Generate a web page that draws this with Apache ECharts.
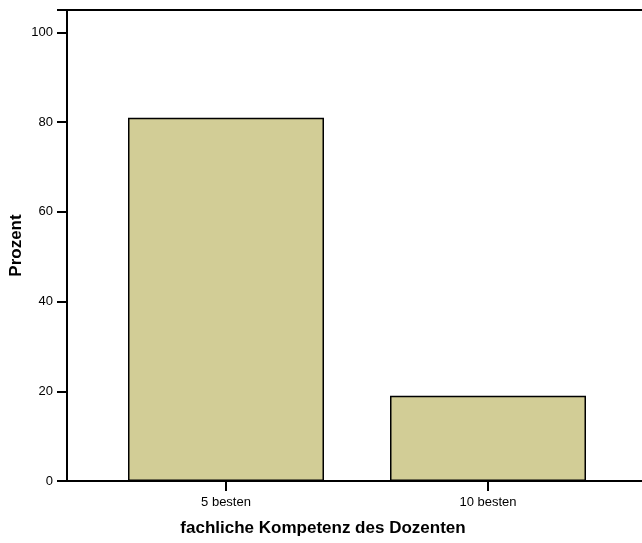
<!DOCTYPE html>
<html>
<head>
<meta charset="utf-8">
<script src="https://cdn.jsdelivr.net/npm/echarts@6/dist/echarts.min.js"></script>
<style>
  html, body { margin: 0; padding: 0; background: #fff; }
  #main { width: 642px; height: 543px; }
</style>
</head>
<body>
<div id="main"></div>
<script>
// 数据
const categories = ["5 besten", "10 besten"];
const prozent = [81, 19];
const yTicks = [0, 20, 40, 60, 80, 100];

const myChart = echarts.init(document.querySelector("#main"));
const font = "Liberation Sans, Arial, sans-serif";

const option = {
  animation: false,
  backgroundColor: "#fff",
  title: {
    text: "fachliche Kompetenz des Dozenten",
    left: 318,
    top: 515,
    textAlign: "center",
    textStyle: { fontFamily: font, fontSize: 17, fontWeight: "bold", color: "#000" },
  },
  grid: [
    // 外框 (x 轴线 + 顶部线)
    { left: 67, right: 0, top: 10, bottom: 62, outerBoundsMode: "none", containLabel: false },
    // 柱子
    { left: 95, right: 23, top: 10, bottom: 62, outerBoundsMode: "none", containLabel: false },
  ],
  xAxis: [
    {
      gridIndex: 0,
      type: "value",
      min: 0,
      max: 1,
      axisLine: { show: true, onZero: false, lineStyle: { color: "#000", width: 2 } },
      axisTick: { show: false },
      axisLabel: { show: false },
      splitLine: { show: false },
    },
    {
      gridIndex: 0,
      type: "value",
      position: "top",
      min: 0,
      max: 1,
      axisLine: { show: true, onZero: false, lineStyle: { color: "#000", width: 2 } },
      axisTick: { show: false },
      axisLabel: { show: false },
      splitLine: { show: false },
    },
    {
      gridIndex: 1,
      type: "category",
      data: categories,
      axisLine: { show: false },
      axisTick: { show: true, alignWithLabel: true, length: 10, lineStyle: { color: "#000", width: 2 } },
      axisLabel: { margin: 15, fontFamily: font, fontSize: 13, color: "#000" },
    },
  ],
  yAxis: [
    {
      gridIndex: 0,
      type: "value",
      min: 0,
      max: 105,
      show: false,
    },
    {
      gridIndex: 1,
      type: "value",
      min: 0,
      max: 105,
      interval: 20,
      offset: 28,
      name: "Prozent",
      nameLocation: "middle",
      nameGap: 42,
      nameMoveOverlap: false,
      nameTextStyle: { fontFamily: font, fontSize: 17, fontWeight: "bold", color: "#000" },
      axisLine: { show: true, lineStyle: { color: "#000", width: 2 } },
      axisTick: { show: true, length: 10, lineStyle: { color: "#000", width: 2 } },
      axisLabel: {
        margin: 14,
        fontFamily: font,
        fontSize: 13,
        color: "#000",
        formatter: (v) => (yTicks.includes(v) ? String(v) : ""),
      },
      splitLine: { show: false },
    },
  ],
  series: [
    {
      type: "bar",
      xAxisIndex: 2,
      yAxisIndex: 1,
      data: prozent,
      barWidth: 196,
      itemStyle: { color: "#d2cd96", borderColor: "#000", borderWidth: 1.5 },
    },
  ],
};
myChart.setOption(option);
</script>
</body>
</html>
